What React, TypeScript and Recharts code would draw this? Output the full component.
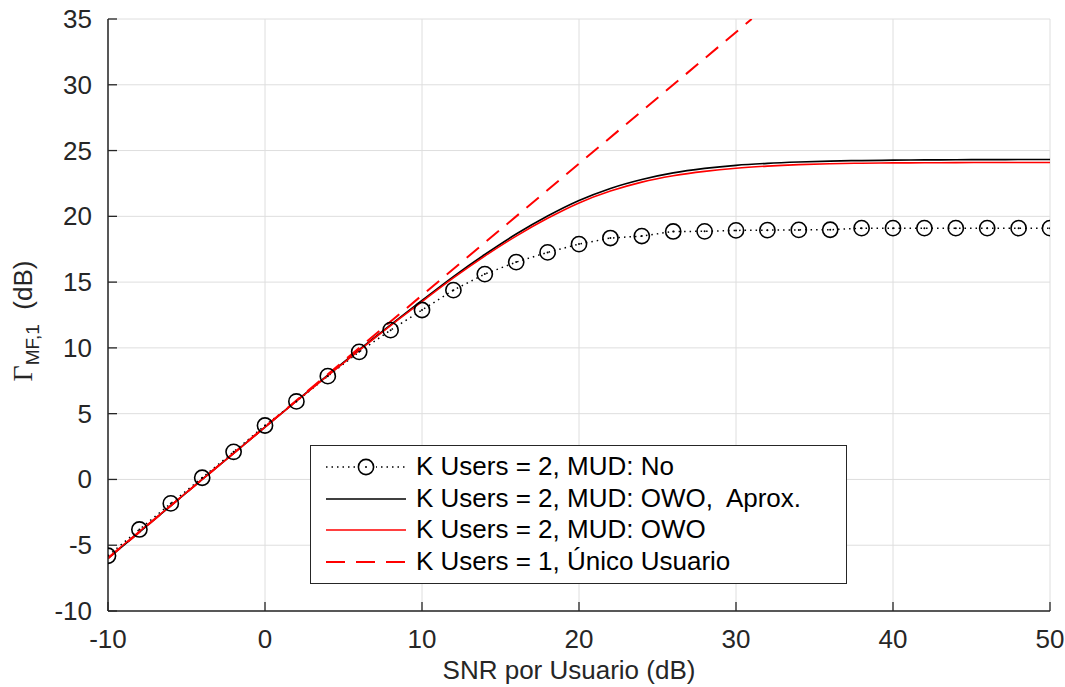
import React from 'react';
import { LineChart, Line, XAxis, YAxis, CartesianGrid, Legend } from 'recharts';

// ---- Data ----
const snrNoMud = [-10, -8, -6, -4, -2, 0, 2, 4, 6, 8, 10, 12, 14, 16, 18, 20, 22, 24, 26, 28, 30, 32, 34, 36, 38, 40, 42, 44, 46, 48, 50];
const gammaNoMud = [-5.8, -3.8, -1.82, 0.13, 2.1, 4.1, 5.93, 7.85, 9.7, 11.35, 12.88, 14.39, 15.61, 16.52, 17.26, 17.89, 18.35, 18.5, 18.85, 18.86, 18.93, 18.95, 18.97, 18.98, 19.1, 19.1, 19.1, 19.1, 19.1, 19.1, 19.1];

const snrCurve = [-10, -8, -6, -4, -2, 0, 2, 4, 6, 8, 10, 12, 14, 16, 18, 20, 22, 24, 26, 28, 30, 32, 34, 36, 38, 40, 42, 44, 46, 48, 50];
const gammaOwoAprox = [-6.0, -4.0, -2.0, 0.0, 1.98, 3.98, 5.97, 7.93, 9.86, 11.75, 13.6, 15.42, 17.1, 18.65, 20.02, 21.2, 22.12, 22.8, 23.3, 23.64, 23.88, 24.03, 24.13, 24.2, 24.24, 24.27, 24.29, 24.3, 24.31, 24.32, 24.32];
const gammaOwo = [-5.95, -3.95, -1.98, 0.0, 1.98, 3.97, 5.95, 7.9, 9.82, 11.7, 13.52, 15.32, 16.98, 18.5, 19.85, 21.02, 21.92, 22.6, 23.08, 23.42, 23.66, 23.82, 23.93, 24.0, 24.04, 24.06, 24.07, 24.08, 24.09, 24.09, 24.09];

const snrSingle = [-10, 0, 10, 20, 31];
const gammaSingle = [-6, 4, 14, 24, 35];

const xTicks = [-10, 0, 10, 20, 30, 40, 50];
const yTicks = [-10, -5, 0, 5, 10, 15, 20, 25, 30, 35];

const legendLabels = [
  'K Users = 2, MUD: No',
  'K Users = 2, MUD: OWO,  Aprox.',
  'K Users = 2, MUD: OWO',
  'K Users = 1, Único Usuario',
];

const toPoints = (xs: number[], ys: number[]) => xs.map((x, i) => ({ x, y: ys[i] }));

const FONT = '"Liberation Sans", Arial, Helvetica, sans-serif';
const TEXT = '#262626';
const FS = 26;

const XTick = (props: any) => {
  const { x, y, payload } = props;
  return (
    <g>
      <line x1={x} y1={y} x2={x} y2={y - 9} stroke={TEXT} strokeWidth={1.3} />
      <text x={x} y={y + 37} textAnchor="middle" fontSize={FS} fill={TEXT} fontFamily={FONT}>
        {payload.value}
      </text>
    </g>
  );
};

const YTick = (props: any) => {
  const { x, y, payload } = props;
  return (
    <g>
      <line x1={x} y1={y} x2={x + 9} y2={y} stroke={TEXT} strokeWidth={1.3} />
      <text x={x - 16} y={y + 9} textAnchor="end" fontSize={FS} fill={TEXT} fontFamily={FONT}>
        {payload.value}
      </text>
    </g>
  );
};

const YLabel = (props: any) => {
  const vb = props.viewBox || { x: 0, y: 0, width: 0, height: 0 };
  const cy = vb.y + vb.height / 2 + 6;
  return (
    <text transform={`translate(32, ${cy}) rotate(-90)`} textAnchor="middle" fill={TEXT}>
      <tspan fontFamily='"Liberation Serif", "Times New Roman", serif' fontSize={28}>Γ</tspan>
      <tspan fontFamily={FONT} fontSize={19} dy={7}>MF,1</tspan>
      <tspan fontFamily={FONT} fontSize={FS} dy={-7}>{'\u00a0\u00a0(dB)'}</tspan>
    </text>
  );
};

const XLabel = (props: any) => {
  const vb = props.viewBox || { x: 0, y: 0, width: 0, height: 0 };
  return (
    <text x={vb.x + vb.width / 2 - 10} y={vb.y + 68} textAnchor="middle" fontSize={FS} fill={TEXT} fontFamily={FONT}>
      SNR por Usuario (dB)
    </text>
  );
};

const CircleDot = (props: any) => {
  const { cx, cy, index } = props;
  if (cx == null || cy == null) return <g key={`d${index}`} />;
  return (
    <g key={`d${index}`}>
      <circle cx={cx} cy={cy} r={7.6} fill="none" stroke="#000" strokeWidth={1.6} />
      <circle cx={cx} cy={cy} r={1} fill="#000" />
    </g>
  );
};

const Swatch = ({ kind }: { kind: number }) => {
  return (
    <svg width={80} height={20} style={{ display: 'block' }}>
      {kind === 0 && (
        <g>
          <line x1={0} y1={10} x2={80} y2={10} stroke="#000" strokeWidth={1.5} strokeDasharray="1.5 4" />
          <rect x={30} y={0} width={20} height={20} fill="#fff" />
          <circle cx={40} cy={10} r={7.6} fill="none" stroke="#000" strokeWidth={1.6} />
          <circle cx={40} cy={10} r={1} fill="#000" />
        </g>
      )}
      {kind === 1 && <line x1={0} y1={10} x2={80} y2={10} stroke="#000" strokeWidth={1.6} />}
      {kind === 2 && <line x1={0} y1={10} x2={80} y2={10} stroke="#ff0000" strokeWidth={1.6} />}
      {kind === 3 && <line x1={0} y1={10} x2={80} y2={10} stroke="#ff0000" strokeWidth={2} strokeDasharray="19 11" />}
    </svg>
  );
};

const LegendBox = () => (
  <div
    style={{
      boxSizing: 'border-box',
      width: 537,
      height: 139,
      border: `1.3px solid ${TEXT}`,
      background: '#fff',
      paddingTop: 5,
    }}
  >
    {legendLabels.map((label, i) => (
      <div key={label} style={{ display: 'flex', alignItems: 'center', height: 31.7 }}>
        <div style={{ marginLeft: 15, width: 80 }}>
          <Swatch kind={i} />
        </div>
        <span
          style={{
            marginLeft: 10,
            fontFamily: FONT,
            fontSize: FS,
            color: '#000',
            whiteSpace: 'pre',
            lineHeight: '31.7px',
          }}
        >
          {label}
        </span>
      </div>
    ))}
  </div>
);

export default function App() {
  return (
    <div style={{ position: 'fixed', left: 0, top: 0, width: 1065, height: 687, background: '#fff' }}>
      <LineChart width={1065} height={687} margin={{ top: 19, right: 15, left: 48, bottom: 26 }}>
        <CartesianGrid stroke="#dedede" strokeWidth={1} vertical horizontal />
        <XAxis
          type="number"
          dataKey="x"
          domain={[-10, 50]}
          ticks={xTicks}
          allowDataOverflow
          height={50}
          tickSize={0}
          tickMargin={0}
          tickLine={false}
          tick={<XTick />}
          axisLine={{ stroke: TEXT, strokeWidth: 1.5 }}
          label={<XLabel />}
        />
        <YAxis
          type="number"
          dataKey="y"
          domain={[-10, 35]}
          ticks={yTicks}
          allowDataOverflow
          width={60}
          tickSize={0}
          tickMargin={0}
          tickLine={false}
          tick={<YTick />}
          axisLine={{ stroke: TEXT, strokeWidth: 1.5 }}
          label={<YLabel />}
        />
        <Line
          data={toPoints(snrNoMud, gammaNoMud)}
          dataKey="y"
          type="linear"
          stroke="#000"
          strokeWidth={1.5}
          strokeDasharray="1.5 4"
          dot={CircleDot}
          activeDot={false}
          isAnimationActive={false}
          name={legendLabels[0]}
        />
        <Line
          data={toPoints(snrCurve, gammaOwoAprox)}
          dataKey="y"
          type="monotone"
          stroke="#000"
          strokeWidth={1.7}
          dot={false}
          activeDot={false}
          isAnimationActive={false}
          name={legendLabels[1]}
        />
        <Line
          data={toPoints(snrCurve, gammaOwo)}
          dataKey="y"
          type="monotone"
          stroke="#ff0000"
          strokeWidth={1.6}
          dot={false}
          activeDot={false}
          isAnimationActive={false}
          name={legendLabels[2]}
        />
        <Line
          data={toPoints(snrSingle, gammaSingle)}
          dataKey="y"
          type="linear"
          stroke="#ff0000"
          strokeWidth={2}
          strokeDasharray="16 10"
          dot={false}
          activeDot={false}
          isAnimationActive={false}
          name={legendLabels[3]}
        />
        <Legend
          verticalAlign="middle"
          align="center"
          content={() => <LegendBox />}
          wrapperStyle={{ position: 'absolute', left: 310, top: 445, width: 537, height: 139 }}
        />
      </LineChart>
    </div>
  );
}
